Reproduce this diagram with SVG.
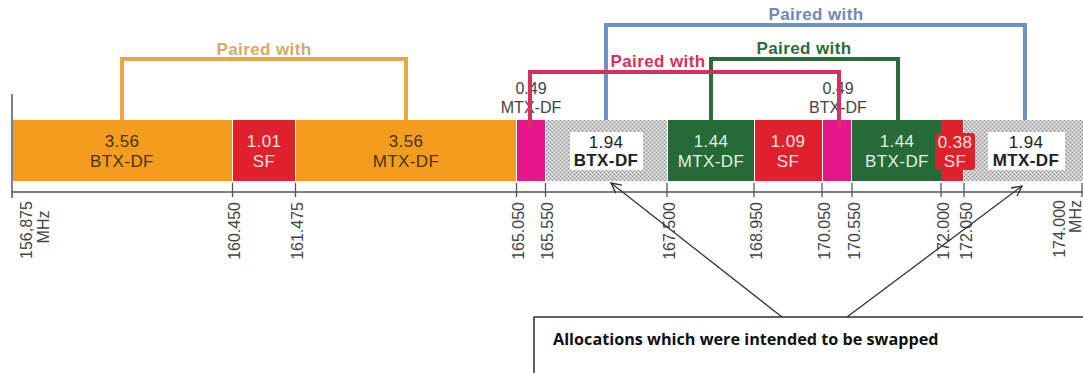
<svg xmlns="http://www.w3.org/2000/svg" width="1083" height="373" viewBox="0 0 1083 373">
<defs>
<pattern id="hatch" width="4" height="4" patternUnits="userSpaceOnUse">
<rect width="4" height="4" fill="#c8c8c8"/>
<rect x="0" y="0" width="1" height="1" fill="#909090"/>
<rect x="2" y="2" width="1" height="1" fill="#909090"/>
<rect x="2" y="0" width="1" height="1" fill="#ececec"/>
<rect x="0" y="2" width="1" height="1" fill="#ececec"/>
</pattern>
<marker id="arr" markerWidth="12" markerHeight="12" refX="11" refY="6" orient="auto" markerUnits="userSpaceOnUse">
<path d="M1,1 L11,6 L1,11" fill="none" stroke="#333" stroke-width="1.3"/>
</marker>
<style>
text{font-family:"Liberation Sans",Arial,sans-serif}
.seg{font-size:17px;text-anchor:middle;letter-spacing:0.4px}
.dk{fill:#4a3418}
.wt{fill:#f6e0e0}
.gw{fill:#e4f0e4}
.bk{fill:#222}
.bold{font-weight:bold}
.tick{stroke:#555;stroke-width:1.3}
.tl{font-size:16px;fill:#444;text-anchor:end}
.pw{font-size:17px;font-weight:bold;text-anchor:middle;letter-spacing:0.4px}
.br{fill:none;stroke-width:4}
.ab{font-size:16px;fill:#444;text-anchor:middle}
</style>
</defs>
<rect width="1083" height="373" fill="#fff"/>

<!-- axis -->
<g id="axis">
<line x1="12" y1="94" x2="12" y2="198" stroke="#555" stroke-width="1.5"/>
<line x1="12" y1="192" x2="1083" y2="192" stroke="#555" stroke-width="1.3"/>
<line class="tick" x1="232.5" y1="183" x2="232.5" y2="197"/>
<line class="tick" x1="295.5" y1="183" x2="295.5" y2="197"/>
<line class="tick" x1="516.5" y1="183" x2="516.5" y2="197"/>
<line class="tick" x1="545.5" y1="183" x2="545.5" y2="197"/>
<line class="tick" x1="667" y1="183" x2="667" y2="197"/>
<line class="tick" x1="754" y1="183" x2="754" y2="197"/>
<line class="tick" x1="822" y1="183" x2="822" y2="197"/>
<line class="tick" x1="852" y1="183" x2="852" y2="197"/>
<line class="tick" x1="941" y1="183" x2="941" y2="197"/>
<line class="tick" x1="964" y1="183" x2="964" y2="197"/>
<line class="tick" x1="1082" y1="183" x2="1082" y2="197"/>
<text class="tl" style="text-anchor:middle" transform="translate(32,230) rotate(-90)">156,875</text>
<text class="tl" style="text-anchor:middle" transform="translate(49,227) rotate(-90)">MHz</text>
<text class="tl" transform="translate(240,202) rotate(-90)">160.450</text>
<text class="tl" transform="translate(303,202) rotate(-90)">161.475</text>
<text class="tl" transform="translate(524,202) rotate(-90)">165.050</text>
<text class="tl" transform="translate(553,202) rotate(-90)">165.550</text>
<text class="tl" transform="translate(675,202) rotate(-90)">167.500</text>
<text class="tl" transform="translate(762,202) rotate(-90)">168.950</text>
<text class="tl" transform="translate(830,202) rotate(-90)">170.050</text>
<text class="tl" transform="translate(860,202) rotate(-90)">170.550</text>
<text class="tl" transform="translate(949,202) rotate(-90)">172.000</text>
<text class="tl" transform="translate(972,202) rotate(-90)">172.050</text>
<text class="tl" transform="translate(1065,200) rotate(-90)">174.000</text>
<text class="tl" transform="translate(1081,200) rotate(-90)">MHz</text>
</g>

<!-- segments -->
<g id="seg-btx-356">
<rect x="13" y="120" width="219" height="61" fill="#f39c1e"/>
<text class="seg dk" x="122" y="147">3.56</text>
<text class="seg dk" x="122" y="167">BTX-DF</text>
</g>
<g id="seg-sf-101">
<rect x="233" y="120" width="62" height="61" fill="#e0202c"/>
<text class="seg wt" x="264" y="147">1.01</text>
<text class="seg wt" x="264" y="167">SF</text>
</g>
<g id="seg-mtx-356">
<rect x="296" y="120" width="220" height="61" fill="#f39c1e"/>
<text class="seg dk" x="406" y="147">3.56</text>
<text class="seg dk" x="406" y="167">MTX-DF</text>
</g>
<g id="seg-mtx-049">
<rect x="517" y="120" width="28" height="61" fill="#e3168a"/>
<text class="ab" x="531" y="94">0.49</text>
<text class="ab" x="531" y="113">MTX-DF</text>
</g>
<g id="seg-btx-194">
<rect x="546" y="120" width="121" height="61" fill="url(#hatch)"/>
<rect x="570" y="132" width="73" height="38" fill="#fff"/>
<text class="seg bk" x="606" y="148">1.94</text>
<text class="seg bk bold" x="606" y="166">BTX-DF</text>
</g>
<g id="seg-mtx-144">
<rect x="668" y="120" width="86" height="61" fill="#256a37"/>
<text class="seg gw" x="711" y="147">1.44</text>
<text class="seg gw" x="711" y="167">MTX-DF</text>
</g>
<g id="seg-sf-109">
<rect x="755" y="120" width="67" height="61" fill="#e0202c"/>
<text class="seg wt" x="788" y="147">1.09</text>
<text class="seg wt" x="788" y="167">SF</text>
</g>
<g id="seg-btx-049">
<rect x="823" y="120" width="28" height="61" fill="#e3168a"/>
<text class="ab" x="838" y="94">0.49</text>
<text class="ab" x="838" y="113">BTX-DF</text>
</g>
<g id="seg-btx-144">
<rect x="852" y="120" width="89" height="61" fill="#256a37"/>
<text class="seg gw" x="897" y="167">BTX-DF</text>
<text class="seg gw" x="897" y="147">1.44</text>
</g>
<g id="seg-sf-038">
<rect x="964" y="120" width="119" height="61" fill="url(#hatch)"/>
<rect x="941" y="120" width="22" height="61" fill="#e0202c"/>
<rect x="935" y="133" width="40" height="37" rx="3" fill="#e0202c"/>
<text class="seg wt" x="955" y="148">0.38</text>
<text class="seg wt" x="955" y="167">SF</text>
</g>
<g id="seg-mtx-194">
<rect x="988" y="132" width="77" height="38" fill="#fff"/>
<text class="seg bk" x="1026" y="148">1.94</text>
<text class="seg bk bold" x="1026" y="166">MTX-DF</text>
</g>

<!-- connectors -->
<g id="connectors">
<polyline class="br" stroke="#e8a644" points="122,120 122,59 406,59 406,120"/>
<text class="pw" fill="#d4aa66" x="264" y="55">Paired with</text>
<polyline class="br" stroke="#7090c8" points="606,120 606,25 1025,25 1025,120"/>
<text class="pw" fill="#7088b8" x="816" y="20">Paired with</text>
<polyline class="br" stroke="#2e6b3a" points="711,120 711,59 898,59 898,120"/>
<text class="pw" fill="#2e6b3a" x="804" y="54">Paired with</text>
<polyline class="br" stroke="#d8305c" points="530,127 530,72 839,72 839,127"/>
<text class="pw" fill="#d8305c" x="658" y="67">Paired with</text>
<line x1="782" y1="317" x2="611" y2="183" stroke="#333" stroke-width="1.3" marker-end="url(#arr)"/>
<line x1="847" y1="317" x2="1022" y2="186" stroke="#333" stroke-width="1.3" marker-end="url(#arr)"/>
</g>

<g id="note">
<rect x="534" y="317" width="560" height="70" fill="#fff" stroke="#111" stroke-width="1.3"/>
<text x="553" y="345" font-size="16.2" font-weight="bold" fill="#111" style="font-family:'Open Sans','Liberation Sans',sans-serif">Allocations which were intended to be swapped</text>
</g>
</svg>
